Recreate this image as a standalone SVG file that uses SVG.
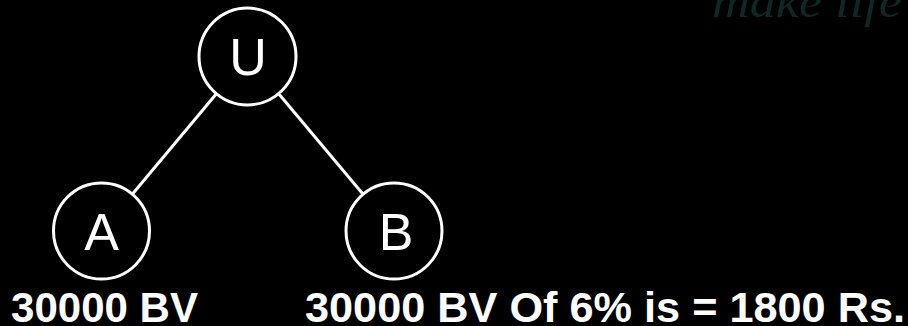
<svg xmlns="http://www.w3.org/2000/svg" width="908" height="326" viewBox="0 0 908 326">
<style>
.node{fill:none;stroke:#fff;stroke-width:3}
.lbl{fill:#fff;font-family:"Liberation Sans",Arial,sans-serif;font-size:52px;text-anchor:middle}
.big{fill:#fff;font-family:"Liberation Sans",Arial,sans-serif;font-size:42px;font-weight:bold}
.edge{stroke:#fff;stroke-width:3}
</style>
<rect width="908" height="326" fill="#000"/>
<text x="712" y="17" fill="#0e2826" font-family="'Liberation Serif',serif" font-style="italic" font-size="46" textLength="190" lengthAdjust="spacingAndGlyphs">make life</text>
<g id="connectors">
<line class="edge" x1="216.4" y1="93.7" x2="132.3" y2="194.2"/>
<line class="edge" x1="278.7" y1="93.7" x2="363.1" y2="194.2"/>
</g>
<g id="node-U">
<circle class="node" cx="247.5" cy="56.5" r="48.5"/>
<text class="lbl" x="248" y="75">U</text>
</g>
<g id="node-A">
<circle class="node" cx="101.5" cy="231" r="48"/>
<text class="lbl" x="101.5" y="250">A</text>
</g>
<g id="node-B">
<circle class="node" cx="394" cy="231" r="48"/>
<text class="lbl" x="396" y="250">B</text>
</g>
<text class="big" x="11" y="322" textLength="187" lengthAdjust="spacingAndGlyphs">30000 BV</text>
<text class="big" x="305" y="322" textLength="600" lengthAdjust="spacingAndGlyphs">30000 BV Of 6% is = 1800 Rs.</text>
</svg>
